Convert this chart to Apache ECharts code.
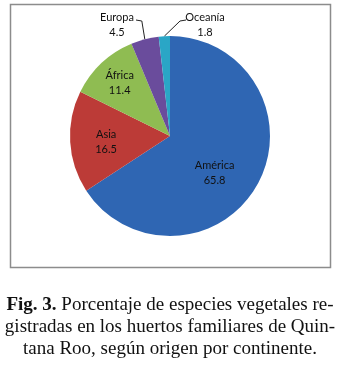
<!DOCTYPE html>
<html>
<head>
<meta charset="utf-8">
<script src="https://cdn.jsdelivr.net/npm/echarts@6/dist/echarts.min.js"></script>
<style>
  html, body { margin: 0; padding: 0; background: #fff; }
  #pieChart { width: 340px; height: 366px; }
</style>
</head>
<body>
<div id="pieChart"></div>
<script>
// continentes, en sentido horario desde arriba
var continents = ["América", "Asia", "África", "Europa", "Oceanía"];
var percents = [65.8, 16.5, 11.4, 4.5, 1.8];
var colors = ["#2f66b3", "#bc3b37", "#8fbc52", "#6a4c9c", "#2aa6c6"];
var outsideLabels = ["Europa", "Oceanía"];
// nudges for the inside labels (Excel "best fit" placement)
var labelNudge = { "América": [-2, 12], "Asia": [-11, 3], "África": [-14, -14] };

var captionLines = [
  "{b|Fig. 3.} Porcentaje de especies vegetales re-",
  "gistradas en los huertos familiares de Quin-",
  "tana Roo, según origen por continente."
];

var pieData = continents.map(function (name, i) {
  var outside = outsideLabels.indexOf(name) >= 0;
  return {
    name: name,
    value: percents[i],
    itemStyle: { color: colors[i] },
    label: { position: outside ? "outside" : "inside" },
    labelLine: { show: outside }
  };
});

var myChart = echarts.init(document.getElementById("pieChart"));

var option = {
  animation: false,
  title: {
    text: captionLines.join("\n"),
    left: "center",
    top: 289,
    textStyle: {
      fontFamily: "Liberation Serif",
      fontSize: 19,
      fontWeight: "normal",
      color: "#111",
      lineHeight: 22,
      rich: {
        b: {
          fontFamily: "Liberation Serif",
          fontSize: 19,
          fontWeight: "bold",
          color: "#111",
          lineHeight: 22
        }
      }
    }
  },
  graphic: [{
    type: "rect",
    shape: { x: 10.5, y: 4.5, width: 320, height: 263 },
    style: { fill: "none", stroke: "#8c8c8c", lineWidth: 1.5 },
    z: 0
  }],
  series: [{
    type: "pie",
    center: [170, 136],
    radius: [0, 100],
    startAngle: 90,
    clockwise: true,
    data: pieData,
    label: {
      formatter: "{b}\n{c}",
      fontFamily: "Lato",
      fontSize: 11,
      lineHeight: 15,
      color: "#111",
      align: "center"
    },
    labelLine: {
      lineStyle: { color: "#222", width: 1 }
    },
    labelLayout: function (params) {
      var name = continents[params.dataIndex];
      var edge = params.labelLinePoints ? params.labelLinePoints[0] : null;
      if (name === "Europa" && edge) {
        return {
          x: 117, y: 25, align: "center", verticalAlign: "middle",
          labelLinePoints: [edge, [edge[0] - 3, 21], [136, 20]]
        };
      }
      if (name === "Oceanía" && edge) {
        return {
          x: 205, y: 25, align: "center", verticalAlign: "middle",
          labelLinePoints: [edge, [180, 21], [186, 20]]
        };
      }
      var n = labelNudge[name];
      return n ? { dx: n[0], dy: n[1] } : {};
    }
  }]
};

myChart.setOption(option);
</script>
</body>
</html>
